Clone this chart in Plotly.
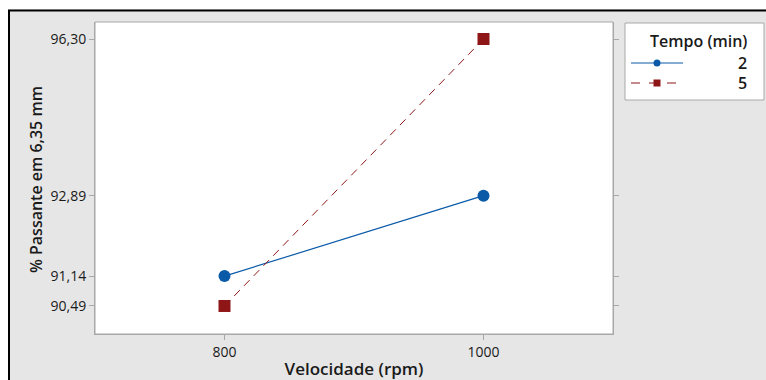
import plotly.graph_objects as go

velocidade = [800, 1000]
tempo2 = [91.14, 92.89]
tempo5 = [90.49, 96.30]
ytick_vals = [90.49, 91.14, 92.89, 96.30]
ytick_text = ["90,49", "91,14", "92,89", "96,30"]
legend_title = "Tempo (min)"
legend_labels = ["2", "5"]
y_title = "% Passante em 6,35 mm"
x_title = "Velocidade (rpm)"

W, H = 766, 380
L, R, T, B = 95, 613, 22, 334
BLUE = "#0a5aa8"
RED = "#8e1616"
FONT = "Open Sans"
TXT = "#1a1a1a"

def px(x):
    return (x - L) / (R - L)

def py(y):
    return (B - y) / (B - T)

fig = go.Figure()
fig.add_trace(go.Scatter(x=velocidade, y=tempo2, mode="lines+markers",
                         line=dict(color=BLUE, width=1.2),
                         marker=dict(symbol="circle", size=12, color=BLUE),
                         name=legend_labels[0]))
fig.add_trace(go.Scatter(x=velocidade, y=tempo5, mode="lines+markers",
                         line=dict(color=RED, width=1, dash="8px,6px"),
                         marker=dict(symbol="square", size=12, color=RED),
                         name=legend_labels[1]))

shapes = []
shapes.append(dict(type="rect", xref="paper", yref="paper", x0=px(0), x1=px(W), y0=py(9), y1=py(0),
                   fillcolor="white", line=dict(width=0), layer="below"))
shapes.append(dict(type="rect", xref="paper", yref="paper", x0=px(0), x1=px(8), y0=py(H), y1=py(0),
                   fillcolor="white", line=dict(width=0), layer="below"))
shapes.append(dict(type="line", xref="paper", yref="paper", x0=px(8), x1=px(W + 5), y0=py(10.5), y1=py(10.5),
                   line=dict(color="black", width=2)))
shapes.append(dict(type="line", xref="paper", yref="paper", x0=px(9), x1=px(9), y0=py(10), y1=py(H + 5),
                   line=dict(color="black", width=2)))
shapes.append(dict(type="rect", xref="paper", yref="paper", x0=0, x1=1, y0=0, y1=1,
                   line=dict(color="#a8a8a8", width=1)))
shapes.append(dict(type="rect", xref="paper", yref="paper", x0=px(625), x1=px(764), y0=py(100), y1=py(23),
                   fillcolor="white", line=dict(color="#a8a8a8", width=1)))
shapes.append(dict(type="line", xref="paper", yref="paper", x0=px(631), x1=px(683), y0=py(63), y1=py(63),
                   line=dict(color=BLUE, width=1)))
shapes.append(dict(type="circle", xref="paper", yref="paper", x0=px(653.5), x1=px(660.5), y0=py(66.5), y1=py(59.5),
                   fillcolor=BLUE, line=dict(color=BLUE, width=0)))
shapes.append(dict(type="line", xref="paper", yref="paper", x0=px(631), x1=px(683), y0=py(83), y1=py(83),
                   line=dict(color=RED, width=1, dash="dash")))
shapes.append(dict(type="rect", xref="paper", yref="paper", x0=px(653.5), x1=px(660.5), y0=py(86.5), y1=py(79.5),
                   fillcolor=RED, line=dict(color=RED, width=0)))

lfont = dict(family=FONT, size=16, color=TXT, weight=600)
annotations = [
    dict(text=legend_title, xref="paper", yref="paper", x=px(749), y=py(41), xanchor="right", yanchor="middle",
         showarrow=False, font=lfont),
    dict(text=legend_labels[0], xref="paper", yref="paper", x=px(749), y=py(63), xanchor="right", yanchor="middle",
         showarrow=False, font=lfont),
    dict(text=legend_labels[1], xref="paper", yref="paper", x=px(749), y=py(83), xanchor="right", yanchor="middle",
         showarrow=False, font=lfont),
    dict(text=y_title, xref="paper", yref="paper", x=px(36), y=py(180), xanchor="center", yanchor="middle",
         textangle=-90, showarrow=False, font=dict(family=FONT, size=16, color=TXT, weight=600)),
]

fig.update_layout(
    width=W, height=H,
    margin=dict(l=L, r=W - R, t=T, b=H - B, pad=0, autoexpand=False),
    paper_bgcolor="#e6e6e6", plot_bgcolor="white",
    showlegend=False,
    shapes=shapes, annotations=annotations,
    font=dict(family=FONT, size=14, color=TXT),
)
tfont = dict(family=FONT, size=14, color=TXT, weight=500)
fig.update_xaxes(range=[700, 1100], tickvals=velocidade, ticktext=[str(v) for v in velocidade],
                 automargin=False,
                 showgrid=False, zeroline=False, showline=True, linecolor="#a8a8a8",
                 ticks="outside", ticklen=5, tickcolor="#a8a8a8",
                 tickfont=tfont,
                 title=dict(text=x_title, font=dict(family=FONT, size=17, color=TXT, weight=600), standoff=5))
fig.update_yaxes(range=[89.88, 96.67], tickvals=ytick_vals, ticktext=ytick_text,
                 automargin=False,
                 showgrid=False, zeroline=False, showline=True, linecolor="#a8a8a8", mirror="ticks",
                 ticks="outside", ticklen=5, tickcolor="#a8a8a8",
                 tickfont=tfont)

fig.write_html("out.html")
